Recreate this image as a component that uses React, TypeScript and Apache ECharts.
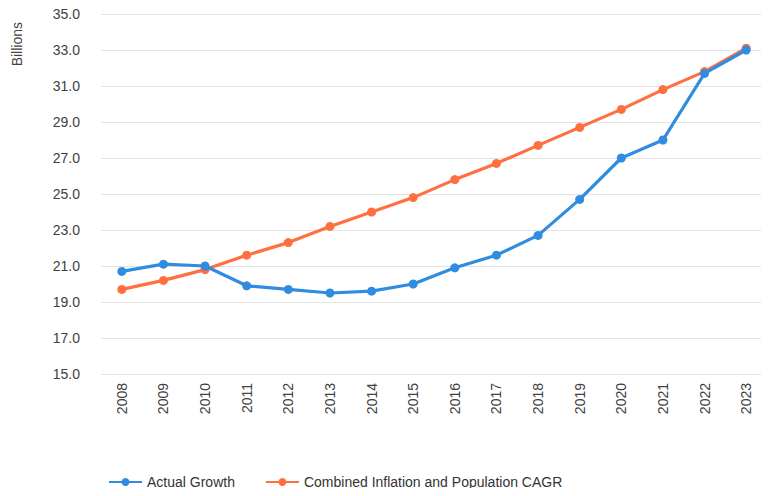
import React, { useEffect, useRef } from "react";
import * as echarts from "echarts";

const years = ["2008","2009","2010","2011","2012","2013","2014","2015","2016","2017","2018","2019","2020","2021","2022","2023"];
const actualGrowth = [20.7,21.1,21.0,19.9,19.7,19.5,19.6,20.0,20.9,21.6,22.7,24.7,27.0,28.0,31.7,33.0];
const inflationPopCagr = [19.7,20.2,20.8,21.6,22.3,23.2,24.0,24.8,25.8,26.7,27.7,28.7,29.7,30.8,31.8,33.1];
const seriesNames = ["Actual Growth", "Combined Inflation and Population CAGR"];
const yAxisTitle = "Billions";

const FONT = "'Liberation Sans', Arial, sans-serif";
const BLUE = "#2F8CE0";
const ORANGE = "#FF6F40";

export default function App() {
  const ref = useRef<HTMLDivElement>(null);
  useEffect(() => {
    if (!ref.current) return;
    const chart = echarts.init(ref.current, undefined, { renderer: "svg" });
    chart.setOption({
      animation: false,
      backgroundColor: "#ffffff",
      grid: { left: 101, right: 2, top: 14, bottom: 122, containLabel: false },
      legend: {
        data: seriesNames,
        left: 103,
        top: 470,
        itemWidth: 33,
        itemHeight: 10,
        itemGap: 30,
        textStyle: { fontFamily: FONT, fontSize: 14, color: "#333" },
      },
      graphic: [
        {
          type: "text",
          left: 10,
          top: 22,
          rotation: Math.PI / 2,
          style: {
            text: yAxisTitle,
            fontFamily: FONT,
            fontSize: 14,
            fill: "#444",
          },
        },
      ],
      xAxis: {
        type: "category",
        data: years,
        boundaryGap: true,
        axisLine: { show: false },
        axisTick: { show: false },
        axisLabel: {
          rotate: 90,
          margin: 9,
          fontFamily: FONT,
          fontSize: 14,
          color: "#404040",
        },
      },
      yAxis: {
        type: "value",
        min: 15,
        max: 35,
        interval: 2,
        axisLine: { show: false },
        axisTick: { show: false },
        axisLabel: {
          margin: 21,
          fontFamily: FONT,
          fontSize: 14,
          color: "#404040",
          formatter: (v: number) => v.toFixed(1),
        },
        splitLine: { lineStyle: { color: "#e3e3e3", width: 1 } },
      },
      series: [
        {
          name: seriesNames[0],
          type: "line",
          data: actualGrowth,
          z: 3,
          symbol: "circle",
          symbolSize: 9,
          lineStyle: { width: 3.2, color: BLUE },
          itemStyle: { color: BLUE },
        },
        {
          name: seriesNames[1],
          type: "line",
          data: inflationPopCagr,
          z: 2,
          symbol: "circle",
          symbolSize: 9,
          lineStyle: { width: 3.2, color: ORANGE },
          itemStyle: { color: ORANGE },
        },
      ],
    });
    return () => chart.dispose();
  }, []);
  return <div ref={ref} style={{ width: 769, height: 496, margin: -8 }} />;
}
